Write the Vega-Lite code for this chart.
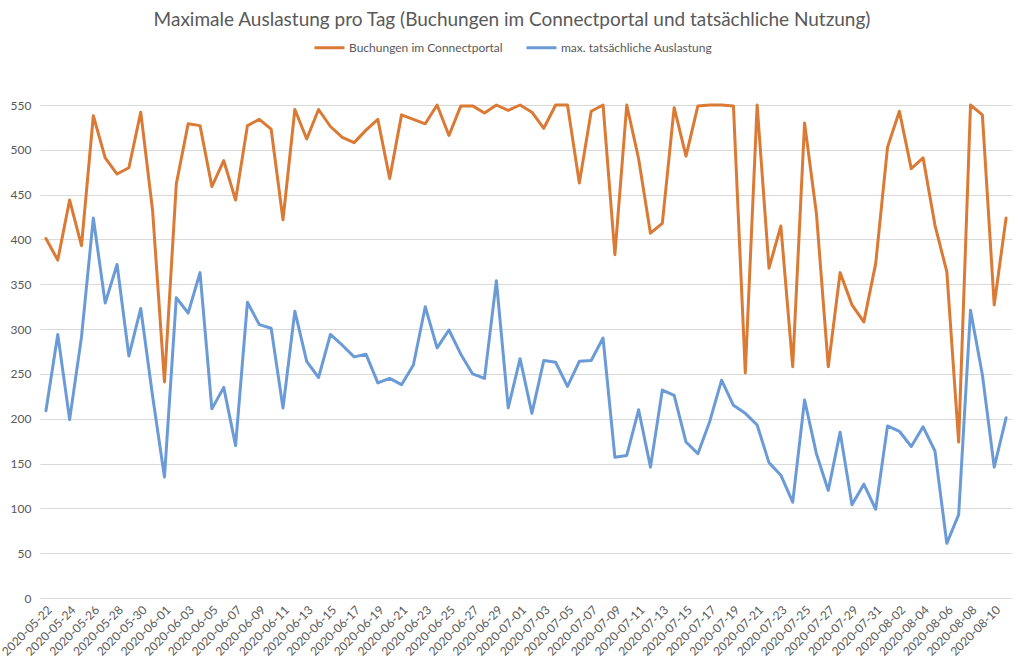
{
  "$schema": "https://vega.github.io/schema/vega-lite/v6.json",
  "width": 972,
  "height": 493,
  "autosize": {"type": "none"},
  "padding": {"left": 40, "top": 105, "right": 12, "bottom": 67},
  "background": "white",
  "title": {"text": "Maximale Auslastung pro Tag (Buchungen im Connectportal und tatsächliche Nutzung)", "font": "Lato", "fontSize": 19, "fontWeight": "normal", "color": "#595959", "anchor": "middle", "offset": 1, "dx": -14},
  "config": {"view": {"stroke": null}},
  "data": {"values": [
    {"d": "2020-05-22", "b": 401, "n": 209},
    {"d": "2020-05-23", "b": 377, "n": 294},
    {"d": "2020-05-24", "b": 444, "n": 199},
    {"d": "2020-05-25", "b": 393, "n": 291},
    {"d": "2020-05-26", "b": 538, "n": 424},
    {"d": "2020-05-27", "b": 491, "n": 329},
    {"d": "2020-05-28", "b": 473, "n": 372},
    {"d": "2020-05-29", "b": 480, "n": 270},
    {"d": "2020-05-30", "b": 542, "n": 323},
    {"d": "2020-05-31", "b": 432, "n": 225},
    {"d": "2020-06-01", "b": 241, "n": 135},
    {"d": "2020-06-02", "b": 462, "n": 335},
    {"d": "2020-06-03", "b": 529, "n": 318},
    {"d": "2020-06-04", "b": 527, "n": 363},
    {"d": "2020-06-05", "b": 459, "n": 211},
    {"d": "2020-06-06", "b": 488, "n": 235},
    {"d": "2020-06-07", "b": 444, "n": 170},
    {"d": "2020-06-08", "b": 527, "n": 330},
    {"d": "2020-06-09", "b": 534, "n": 305},
    {"d": "2020-06-10", "b": 523, "n": 301},
    {"d": "2020-06-11", "b": 422, "n": 212},
    {"d": "2020-06-12", "b": 545, "n": 320},
    {"d": "2020-06-13", "b": 512, "n": 264},
    {"d": "2020-06-14", "b": 545, "n": 246},
    {"d": "2020-06-15", "b": 526, "n": 294},
    {"d": "2020-06-16", "b": 514, "n": 282},
    {"d": "2020-06-17", "b": 508, "n": 269},
    {"d": "2020-06-18", "b": 522, "n": 272},
    {"d": "2020-06-19", "b": 534, "n": 240},
    {"d": "2020-06-20", "b": 468, "n": 245},
    {"d": "2020-06-21", "b": 539, "n": 238},
    {"d": "2020-06-22", "b": 534, "n": 260},
    {"d": "2020-06-23", "b": 529, "n": 325},
    {"d": "2020-06-24", "b": 550, "n": 279},
    {"d": "2020-06-25", "b": 516, "n": 299},
    {"d": "2020-06-26", "b": 549, "n": 272},
    {"d": "2020-06-27", "b": 549, "n": 250},
    {"d": "2020-06-28", "b": 541, "n": 245},
    {"d": "2020-06-29", "b": 550, "n": 354},
    {"d": "2020-06-30", "b": 544, "n": 212},
    {"d": "2020-07-01", "b": 550, "n": 267},
    {"d": "2020-07-02", "b": 542, "n": 206},
    {"d": "2020-07-03", "b": 524, "n": 265},
    {"d": "2020-07-04", "b": 550, "n": 263},
    {"d": "2020-07-05", "b": 550, "n": 236},
    {"d": "2020-07-06", "b": 463, "n": 264},
    {"d": "2020-07-07", "b": 543, "n": 265},
    {"d": "2020-07-08", "b": 550, "n": 290},
    {"d": "2020-07-09", "b": 383, "n": 157},
    {"d": "2020-07-10", "b": 550, "n": 159},
    {"d": "2020-07-11", "b": 490, "n": 210},
    {"d": "2020-07-12", "b": 407, "n": 146},
    {"d": "2020-07-13", "b": 418, "n": 232},
    {"d": "2020-07-14", "b": 547, "n": 226},
    {"d": "2020-07-15", "b": 493, "n": 174},
    {"d": "2020-07-16", "b": 549, "n": 161},
    {"d": "2020-07-17", "b": 550, "n": 197},
    {"d": "2020-07-18", "b": 550, "n": 243},
    {"d": "2020-07-19", "b": 549, "n": 215},
    {"d": "2020-07-20", "b": 251, "n": 206},
    {"d": "2020-07-21", "b": 550, "n": 193},
    {"d": "2020-07-22", "b": 368, "n": 151},
    {"d": "2020-07-23", "b": 415, "n": 137},
    {"d": "2020-07-24", "b": 258, "n": 107},
    {"d": "2020-07-25", "b": 530, "n": 221},
    {"d": "2020-07-26", "b": 429, "n": 161},
    {"d": "2020-07-27", "b": 258, "n": 120},
    {"d": "2020-07-28", "b": 363, "n": 185},
    {"d": "2020-07-29", "b": 327, "n": 104},
    {"d": "2020-07-30", "b": 308, "n": 127},
    {"d": "2020-07-31", "b": 373, "n": 99},
    {"d": "2020-08-01", "b": 503, "n": 192},
    {"d": "2020-08-02", "b": 543, "n": 186},
    {"d": "2020-08-03", "b": 479, "n": 169},
    {"d": "2020-08-04", "b": 491, "n": 191},
    {"d": "2020-08-05", "b": 416, "n": 164},
    {"d": "2020-08-06", "b": 364, "n": 61},
    {"d": "2020-08-07", "b": 174, "n": 93},
    {"d": "2020-08-08", "b": 550, "n": 321},
    {"d": "2020-08-09", "b": 539, "n": 249},
    {"d": "2020-08-10", "b": 327, "n": 146},
    {"d": "2020-08-11", "b": 424, "n": 201}
  ]},
  "encoding": {
    "x": {
      "field": "d", "type": "ordinal", "sort": null,
      "scale": {"type": "point", "padding": 0.5},
      "axis": {
        "title": null, "labelAngle": -45, "ticks": false, "domain": false, "grid": false,
        "labelFont": "Lato", "labelFontSize": 12, "labelColor": "#595959", "labelPadding": 6,
        "values": ["2020-05-22","2020-05-24","2020-05-26","2020-05-28","2020-05-30","2020-06-01","2020-06-03","2020-06-05","2020-06-07","2020-06-09","2020-06-11","2020-06-13","2020-06-15","2020-06-17","2020-06-19","2020-06-21","2020-06-23","2020-06-25","2020-06-27","2020-06-29","2020-07-01","2020-07-03","2020-07-05","2020-07-07","2020-07-09","2020-07-11","2020-07-13","2020-07-15","2020-07-17","2020-07-19","2020-07-21","2020-07-23","2020-07-25","2020-07-27","2020-07-29","2020-07-31","2020-08-02","2020-08-04","2020-08-06","2020-08-08","2020-08-10"]
      }
    }
  },
  "layer": [
    {
      "mark": {"type": "line", "strokeWidth": 3, "strokeJoin": "round", "strokeCap": "round"},
      "encoding": {
        "y": {
          "field": "b", "type": "quantitative",
          "scale": {"domain": [0, 550], "nice": false},
          "axis": {
            "title": null, "values": [0,50,100,150,200,250,300,350,400,450,500,550],
            "domain": false, "ticks": false, "gridColor": "#d9d9d9", "gridWidth": 1,
            "labelFont": "Lato", "labelFontSize": 12, "labelColor": "#595959", "labelPadding": 9
          }
        },
        "color": {
          "datum": "Buchungen im Connectportal",
          "scale": {"domain": ["Buchungen im Connectportal", "max. tatsächliche Auslastung"], "range": ["#DA7A35", "#6B9BD7"]},
          "legend": {
            "title": null, "orient": "none", "direction": "horizontal", "legendX": 273, "legendY": -74,
            "symbolType": "stroke", "symbolSize": 900, "symbolStrokeWidth": 3,
            "labelFont": "Lato", "labelFontSize": 12, "labelColor": "#595959", "labelOffset": 3,
            "columnPadding": 17
          }
        }
      }
    },
    {
      "mark": {"type": "line", "strokeWidth": 3, "strokeJoin": "round", "strokeCap": "round"},
      "encoding": {
        "y": {"field": "n", "type": "quantitative"},
        "color": {"datum": "max. tatsächliche Auslastung"}
      }
    }
  ]
}
